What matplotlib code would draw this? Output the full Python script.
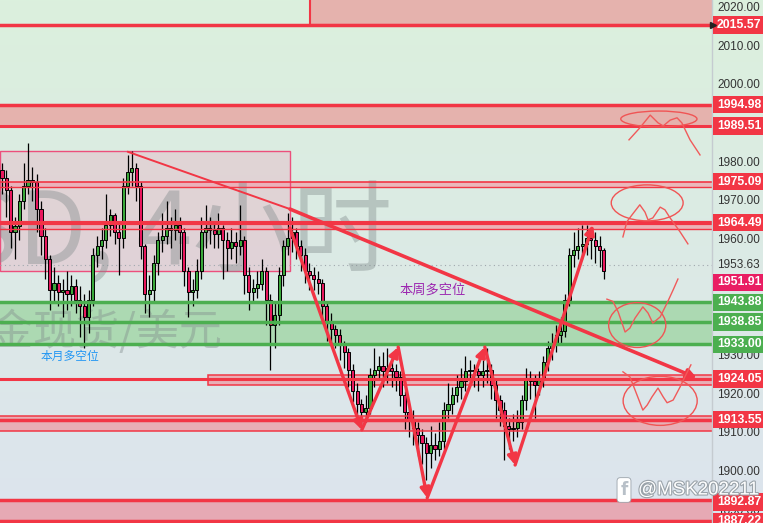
import numpy as np
import matplotlib
matplotlib.use("Agg")
import matplotlib.pyplot as plt
import matplotlib.transforms as mtransforms
from matplotlib.patches import Rectangle, Ellipse
import matplotlib.patheffects as pe

plt.rcParams['font.family'] = ['Noto Sans CJK SC', 'DejaVu Sans']

# ---------------- data ----------------
opens = [1978, 1976, 1973, 1962, 1963.5, 1970, 1974, 1975.5, 1975, 1968,
         1961, 1955, 1947, 1949, 1946.5, 1947, 1946, 1948, 1944.5, 1943,
         1940, 1944.5, 1956, 1958.5, 1960, 1964, 1966.5, 1962, 1960.5, 1974,
         1977.5, 1978.5, 1974, 1958.5, 1946, 1947, 1954, 1960, 1961, 1963,
         1962.5, 1964, 1962, 1952, 1946.5, 1947, 1952, 1962, 1963, 1962.5,
         1961.5, 1963, 1960, 1958, 1959.5, 1958.5, 1960, 1951, 1946.5, 1947.5,
         1948.5, 1952, 1944.5, 1938, 1940.5, 1951, 1958.5, 1960.5, 1962, 1958.5,
         1956, 1952, 1951, 1950, 1949, 1943, 1939, 1937, 1935.5, 1933,
         1931, 1926.5, 1921, 1917.5, 1915.5, 1916.5, 1925, 1926.5, 1927.5, 1926,
         1927, 1926, 1924.5, 1920, 1915.5, 1913.5, 1911.5, 1909.5, 1907.5, 1905,
         1907, 1906, 1908, 1916, 1917.5, 1920, 1922, 1923.5, 1926, 1926.5,
         1926, 1925, 1926, 1926.5, 1922.5, 1918.5, 1916, 1912, 1911, 1911.5,
         1913, 1918.5, 1924, 1923.5, 1922.5, 1924, 1928.5, 1932, 1933, 1935.5,
         1936.5, 1944.5, 1956, 1957.5, 1958.5, 1959, 1960.5, 1960, 1958.5, 1957.5]
closes = [1976, 1973, 1962, 1963.5, 1970, 1974, 1975.5, 1975, 1968, 1961,
          1955, 1947, 1949, 1946.5, 1947, 1946, 1948, 1944.5, 1943, 1940,
          1944.5, 1956, 1958.5, 1960, 1964, 1966.5, 1962, 1960.5, 1974, 1977.5,
          1978.5, 1974, 1958.5, 1946, 1947, 1954, 1960, 1961, 1963, 1962.5,
          1964, 1962, 1952, 1946.5, 1947, 1952, 1962, 1963, 1962.5, 1961.5,
          1963, 1960, 1958, 1959.5, 1958.5, 1960, 1951, 1946.5, 1947.5, 1948.5,
          1952, 1944.5, 1938, 1940.5, 1951, 1958.5, 1960.5, 1962, 1958.5, 1956,
          1952, 1951, 1950, 1949, 1943, 1939, 1937, 1935.5, 1933, 1931,
          1926.5, 1921, 1917.5, 1915.5, 1916.5, 1925, 1926.5, 1927.5, 1926, 1927,
          1926, 1924.5, 1920, 1915.5, 1913.5, 1911.5, 1909.5, 1907.5, 1905, 1907,
          1906, 1908, 1916, 1917.5, 1920, 1922, 1923.5, 1926, 1926.5, 1926,
          1925, 1926, 1926.5, 1922.5, 1918.5, 1916, 1912, 1911, 1911.5, 1913,
          1918.5, 1924, 1923.5, 1922.5, 1924, 1928.5, 1932, 1933, 1935.5, 1936.5,
          1944.5, 1956, 1957.5, 1958.5, 1959, 1960.5, 1960, 1958.5, 1957.5, 1951.91]
highs = [1980, 1978, 1974, 1966, 1972, 1980, 1985, 1979, 1977, 1970,
         1963, 1956, 1953, 1951, 1950, 1952, 1951, 1950, 1948, 1946,
         1947, 1958, 1961, 1963, 1972, 1968, 1967, 1965, 1976, 1982,
         1983, 1980, 1975, 1959, 1951, 1956, 1962, 1967, 1970, 1966,
         1968, 1966, 1963, 1953, 1950, 1955, 1966, 1969, 1966, 1965,
         1967, 1964, 1962, 1963, 1962, 1969, 1961, 1953, 1950, 1952,
         1955, 1953, 1946, 1944, 1953, 1960, 1967, 1966, 1963, 1960,
         1958, 1954, 1953, 1952, 1950, 1944, 1941, 1938, 1937, 1934,
         1932, 1928, 1923, 1919, 1920, 1927, 1932, 1930, 1931, 1932,
         1930, 1928, 1926, 1921, 1917, 1916, 1913, 1911, 1909, 1912,
         1910, 1913, 1918, 1923, 1922, 1925, 1927, 1930, 1929, 1928,
         1927, 1929, 1932, 1928, 1924, 1920, 1918, 1914, 1915, 1916,
         1920, 1927, 1926, 1925, 1926, 1930, 1934, 1936, 1938, 1940,
         1946, 1958, 1962, 1963, 1964, 1964, 1963, 1962, 1961, 1958]
lows = [1972, 1966, 1958, 1955, 1960, 1968, 1972, 1970, 1962, 1956,
        1950, 1942, 1944, 1943, 1940, 1942, 1943, 1941, 1935, 1932,
        1936, 1943, 1953, 1955, 1958, 1961, 1959, 1951, 1958, 1972,
        1974, 1970, 1955, 1941, 1940, 1944, 1951, 1957, 1959, 1958,
        1960, 1955, 1948, 1940, 1943, 1945, 1950, 1958, 1959, 1958,
        1958, 1950, 1952, 1955, 1954, 1956, 1946, 1942, 1944, 1945,
        1947, 1938, 1926.5, 1932, 1938, 1948, 1956, 1957, 1955, 1952,
        1949, 1947, 1947, 1946, 1940, 1934, 1933, 1932, 1929, 1927,
        1922, 1918, 1913, 1911, 1913, 1915, 1922, 1924, 1922, 1923,
        1922, 1921, 1917, 1911, 1909, 1907, 1904, 1902, 1898, 1901,
        1903, 1904, 1906, 1914, 1915, 1918, 1919, 1921, 1923, 1922,
        1921, 1922, 1923, 1919, 1914, 1912, 1903, 1906, 1908, 1909,
        1911, 1916, 1919, 1914, 1920, 1922, 1926, 1929, 1931, 1933,
        1935, 1943, 1953, 1955, 1955, 1956, 1955, 1954, 1953, 1950]

# key levels
top_zone_low = 2015.57
zone_a = (1989.51, 1994.98)
zone_b = (1973.6, 1975.09)
zone_c = (1962.9, 1964.49)
green_levels = [1943.88, 1938.85, 1933.00]
level_1924 = 1924.05
zone_1924 = (1922.6, 1925.0)
level_1913 = 1913.55
zone_1913 = (1910.7, 1914.4)
level_1892 = 1892.87
level_1887 = 1887.22
dotted_level = 1953.63
box_monthly = (-0.46, 66.5, 1952.0, 1983.0)   # x0, x1, y0, y1 (bar index / price)
top_zone_start = 71.1
zone_1924_start = 47.6

trend_start = (29.1, 1982.8)
trend_mid = (66.5, 1968.0)
trend_end = (160.5, 1924.3)

zigzag_x = [66.5, 83.1, 91.5, 98.2, 111.5, 118.5, 136.5]
zigzag_p = [1963.1, 1910.9, 1932.3, 1893.3, 1932.3, 1901.8, 1963.9]

ellipses = [(151.7, 1991.3, 17.6, 4.1), (149.0, 1969.6, 16.6, 9.3),
            (146.7, 1938.0, 13.2, 11.6), (152.0, 1918.4, 17.1, 12.7)]
squiggle1_x = [144.8, 147.3, 149.7, 151.5, 152.7, 154.3, 155.9, 157.0, 158.9, 161.2]
squiggle1_p = [1985.9, 1989.0, 1992.3, 1990.3, 1989.5, 1991.0, 1991.6, 1990.3, 1985.9, 1982.0]
squiggle2_x = [143.4, 144.3, 145.5, 147.3, 148.5, 149.2, 150.3, 152.0, 153.1, 154.3, 156.6, 158.4]
squiggle2_p = [1960.8, 1964.7, 1966.5, 1969.1, 1967.2, 1965.2, 1965.7, 1968.5, 1967.8, 1965.7, 1962.1, 1959.0]
squiggle3_x = [139.7, 141.1, 142.3, 143.9, 145.0, 146.2, 148.0, 149.2, 150.3, 152.0, 153.6, 155.0, 156.1]
squiggle3_p = [1944.7, 1944.1, 1941.4, 1936.2, 1937.2, 1939.8, 1942.7, 1941.1, 1938.5, 1940.1, 1943.7, 1947.1, 1949.9]
squiggle4_x = [143.4, 145.0, 146.2, 148.0, 149.0, 150.1, 151.5, 152.7, 153.6, 155.0, 156.6, 157.7, 159.1]
squiggle4_p = [1925.9, 1924.6, 1921.2, 1916.0, 1917.3, 1919.4, 1921.7, 1919.4, 1917.9, 1918.6, 1922.0, 1924.6, 1927.7]

# visible axis ticks (1990, 1950, 1940 are hidden behind level labels in the reference)
tick_values = [2020, 2010, 2000, 1980, 1970, 1960, 1930, 1920, 1910, 1900, 1890]
price_labels = [2015.57, 1994.98, 1989.51, 1975.09, 1964.49, 1953.63, 1951.91,
                1943.88, 1938.85, 1933.00, 1924.05, 1913.55, 1892.87, 1887.22]
label_kinds = ['r', 'r', 'r', 'r', 'r', 'n', 'm', 'g', 'g', 'g', 'r', 'r', 'r', 'r']
label_shift = [0, 0, 0, 0, 0, 0, -2.9, 0, 0, 0, 0, 0, -0.7, 0]

RED = '#f23645'
GREEN = '#4caf50'
MAG = '#e91e63'
UP = '#3aa83a'
DOWN = '#e8175d'

# ---------------- figure ----------------
W, H = 763, 523
fig = plt.figure(figsize=(W / 100, H / 100), dpi=100)

bg = fig.add_axes([0, 0, 1, 1], zorder=0)
grad = np.linspace(0, 1, 256).reshape(-1, 1)
top_c = np.array([0xdb, 0xf0, 0xdd]) / 255
bot_c = np.array([0xdd, 0xe4, 0xee]) / 255
img = top_c[None, None, :] * (1 - grad[:, :, None]) + bot_c[None, None, :] * grad[:, :, None]
bg.imshow(img, aspect='auto', extent=[0, 1, 0, 1], origin='upper')
bg.set_xlim(0, 1); bg.set_ylim(0, 1)
bg.axis('off')

ax = fig.add_axes([0, 0, 712 / W, 1], zorder=1)
ax.set_facecolor('none')
xmin, xmax = -0.46, 163.97
ymin, ymax = 1886.8, 2022.07
ax.set_xlim(xmin, xmax)
ax.set_ylim(ymin, ymax)
for s in ax.spines.values():
    s.set_visible(False)
ax.set_xticks([]); ax.set_yticks([])

# watermark (above zones, below candles)
wm_color = '#7f8a8a'
ax.text(392 / W, 1 - 235 / H, 'XAUUSD, 4小时', fontsize=72, color=wm_color, alpha=0.4,
        ha='right', va='center', transform=fig.transFigure, zorder=1.8)
ax.text(222 / W, 1 - 333 / H, '黄金现货/美元', fontsize=31, color=wm_color, alpha=0.4,
        ha='right', va='center', transform=fig.transFigure, zorder=1.8)

# zones
ax.add_patch(Rectangle((top_zone_start, top_zone_low), xmax - top_zone_start + 1, 10,
                       fc='#e5b2ad', ec=RED, lw=1.5, zorder=1))
ax.axhline(top_zone_low, color=RED, lw=2.5, zorder=4)

ax.axhspan(zone_a[0], zone_a[1], color='#e5b2ad', zorder=1, lw=0)
ax.axhline(zone_a[0], color=RED, lw=2.2, zorder=4)
ax.axhline(zone_a[1], color=RED, lw=2.5, zorder=4)

ax.axhspan(zone_b[0], zone_b[1], color='#eab8bb', zorder=1, lw=0)
ax.axhline(zone_b[0], color=RED, lw=1.0, zorder=4)
ax.axhline(zone_b[1], color=RED, lw=1.2, zorder=4)

ax.axhspan(zone_c[0], zone_c[1], color='#ebb3b7', zorder=1, lw=0)
ax.axhline(zone_c[1], color=RED, lw=3, zorder=4)
ax.axhline(zone_c[0], color=RED, lw=1.0, zorder=4)

ax.add_patch(Rectangle((box_monthly[0], box_monthly[2]), box_monthly[1] - box_monthly[0],
                       box_monthly[3] - box_monthly[2], fc='#eaa8bd', alpha=0.35, ec='none', zorder=1.2))
ax.add_patch(Rectangle((box_monthly[0], box_monthly[2]), box_monthly[1] - box_monthly[0],
                       box_monthly[3] - box_monthly[2], fc='none', ec='#ec4f7c', lw=1.0, zorder=1.3))

ax.axhspan(green_levels[2], green_levels[0], color='#acd9b2', zorder=1, lw=0)
for g in green_levels:
    ax.axhline(g, color=GREEN, lw=2.5, zorder=4)

ax.add_patch(Rectangle((zone_1924_start, zone_1924[0]), xmax - zone_1924_start + 1,
                       zone_1924[1] - zone_1924[0], fc='#e8aeb5', ec=RED, lw=1.1, zorder=1))
ax.axhline(level_1924, color=RED, lw=2.2, zorder=4)

ax.axhspan(zone_1913[0], zone_1913[1], color='#e8aeb5', zorder=1, lw=0)
ax.axhline(zone_1913[0], color=RED, lw=1.1, zorder=4)
ax.axhline(zone_1913[1], color=RED, lw=1.1, zorder=4)
ax.axhline(level_1913, color=RED, lw=2.5, zorder=4)

ax.axhspan(ymin - 5, level_1892, color='#e6a9b4', zorder=1, lw=0)
ax.axhline(level_1892, color=RED, lw=2.5, zorder=4)
ax.axhline(level_1887, color=RED, lw=2.5, zorder=4)

ax.axhline(dotted_level, color='#a0a8ae', lw=0.8, ls=(0, (1, 3)), zorder=1.5)

# candles
idx = np.arange(len(closes))
o = np.array(opens); c = np.array(closes); h = np.array(highs); l = np.array(lows)
up = c >= o
ax.vlines(idx, l, h, color='black', lw=0.9, zorder=2)
body_low = np.minimum(o, c)
body_h = np.maximum(np.abs(c - o), 0.25)
ax.bar(idx[up], body_h[up], bottom=body_low[up], width=0.72, color=UP, edgecolor='black', lw=0.7, zorder=2.5)
ax.bar(idx[~up], body_h[~up], bottom=body_low[~up], width=0.72, color=DOWN, edgecolor='black', lw=0.7, zorder=2.5)

# trend line
ax.plot([trend_start[0], trend_mid[0]], [trend_start[1], trend_mid[1]], color=RED, lw=1.4, zorder=5)
ax.annotate('', xy=trend_end, xytext=trend_mid,
            arrowprops=dict(arrowstyle='-|>', color=RED, lw=2.6, mutation_scale=14, shrinkA=0, shrinkB=0),
            zorder=5)

# zigzag arrows
for k in range(len(zigzag_x) - 1):
    ax.annotate('', xy=(zigzag_x[k + 1], zigzag_p[k + 1]), xytext=(zigzag_x[k], zigzag_p[k]),
                arrowprops=dict(arrowstyle='-|>', color=RED, lw=2.4, mutation_scale=14,
                                shrinkA=0, shrinkB=0), zorder=5)

# hand drawn ellipses and squiggles
for (cx, cy, ew, eh) in ellipses:
    ax.add_patch(Ellipse((cx, cy), ew, eh, fc='none', ec='#f05454', lw=1.0, zorder=5))
for sx, sp in [(squiggle1_x, squiggle1_p), (squiggle2_x, squiggle2_p),
               (squiggle3_x, squiggle3_p), (squiggle4_x, squiggle4_p)]:
    ax.plot(sx, sp, color='#f05a5a', lw=1.0, zorder=5)

# annotations
ax.text(8.8, 1930.0, '本月多空位', color='#2196f3', fontsize=8.5, ha='left', va='center', zorder=6)
ax.text(91.9, 1947.1, '本周多空位', color='#9c27b0', fontsize=9.5, ha='left', va='center', zorder=6)

# ---------------- right price scale ----------------
trans = mtransforms.blended_transform_factory(fig.transFigure, ax.transData)
ax.add_line(plt.Line2D([712 / W, 712 / W], [0, 1], color='#c5cbd0', lw=1.0,
                       transform=fig.transFigure, clip_on=False, zorder=9))
for t in tick_values:
    ax.text(717 / W, t, f'{t:.2f}', transform=trans, fontsize=8.5, color='#333333',
            family='Liberation Sans', ha='left', va='center', clip_on=False, zorder=10)
px_per_unit = H / (ymax - ymin)
box_h = 17.5 / px_per_unit
for v, kind, sh in zip(price_labels, label_kinds, label_shift):
    y = v + sh
    if kind == 'n':
        ax.text(717 / W, y, f'{v:.2f}', transform=trans, fontsize=8.5, color='#333333',
                family='Liberation Sans', ha='left', va='center', clip_on=False, zorder=12)
        continue
    col = {'r': RED, 'g': GREEN, 'm': MAG}[kind]
    ax.add_patch(Rectangle((712.5 / W, y - box_h / 2), 51 / W, box_h, transform=trans,
                           fc=col, ec='none', zorder=11, clip_on=False))
    ax.text(717 / W, y, f'{v:.2f}', transform=trans, fontsize=8.8, color='white',
            family='Liberation Sans', fontweight='bold', ha='left', va='center',
            clip_on=False, zorder=12)
ax.add_line(plt.Line2D([713 / W], [top_zone_low], marker='>', color='#222222', markersize=5,
                       transform=trans, zorder=13, clip_on=False))

# social watermark
fig.text(638 / W, 1 - 490 / H, '@MSK202211', color='white', fontsize=13.5,
         family='Liberation Sans', ha='left', va='center', zorder=20,
         path_effects=[pe.withStroke(linewidth=1.6, foreground='#9aa3aa')])
fig.text(624 / W, 1 - 490 / H, 'f', color='#b8c0c8', fontsize=12, fontweight='bold',
         family='DejaVu Sans', ha='center', va='center', zorder=20,
         bbox=dict(boxstyle='round,pad=0.2', fc='white', ec='#9aa3aa', lw=0.6))

fig.savefig('out.png', dpi=100)
